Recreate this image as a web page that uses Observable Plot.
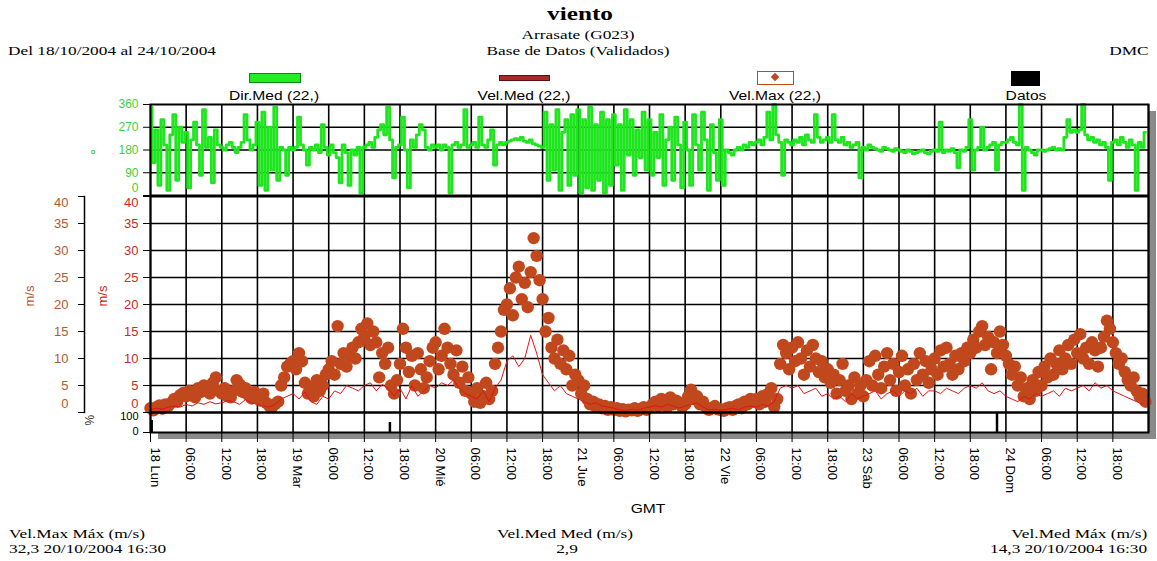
<!DOCTYPE html>
<html><head><meta charset="utf-8">
<script src="https://cdn.jsdelivr.net/npm/d3@7"></script>
<script src="https://cdn.jsdelivr.net/npm/@observablehq/plot@0.6"></script>
<style>
body{margin:0;background:#fff;}
#root{position:relative;width:1157px;height:561px;overflow:hidden;font-family:"Liberation Serif","Times New Roman",serif;color:#000;}
.abs{position:absolute;white-space:nowrap;line-height:1;}
.ser{font-family:"Liberation Serif","Times New Roman",serif;font-size:13px;}
.san{font-family:"Liberation Sans",Arial,sans-serif;font-size:12px;}
.l{transform:scaleX(1.33);transform-origin:0 0;}
.r{transform:scaleX(1.33);transform-origin:100% 0;}
.c{transform:translateX(-50%) scaleX(1.33);}
.cs{transform:translateX(-50%) scaleX(1.3);}
</style></head><body><div id="root">
<div class="abs" style="left:150px;top:104px;width:998px;height:328px;background:#fff;box-shadow:8px 7px 0 #8a8a8a;"></div>
<div class="abs ser c" style="left:580px;top:4px;font-size:19px;font-weight:bold;">viento</div>
<div class="abs ser c" style="left:578px;top:28px;">Arrasate (G023)</div>
<div class="abs ser c" style="left:578px;top:44px;">Base de Datos (Validados)</div>
<div class="abs ser l" style="left:8px;top:44px;">Del 18/10/2004 al 24/10/2004</div>
<div class="abs ser r" style="right:8px;top:44px;">DMC</div>

<div class="abs" style="left:249px;top:73px;width:50px;height:8px;background:#22ee22;border:1px solid #0a8a0a;"></div>
<div class="abs san cs" style="left:274px;top:90px;">Dir.Med (22,)</div>
<div class="abs" style="left:499px;top:75px;width:49px;height:4px;background:#a52a2a;border:1px solid #5a1010;"></div>
<div class="abs san cs" style="left:524px;top:90px;">Vel.Med (22,)</div>
<div class="abs" style="left:757px;top:71px;width:35px;height:12px;background:#fff;border:1px solid #c1481d;"></div>
<div class="abs" style="left:772px;top:74px;width:6px;height:6px;background:#c1481d;transform:rotate(45deg);"></div>
<div class="abs san cs" style="left:775px;top:90px;">Vel.Max (22,)</div>
<div class="abs" style="left:1011px;top:71px;width:29px;height:15px;background:#000;"></div>
<div class="abs san cs" style="left:1026px;top:90px;">Datos</div>

<div id="pTop" class="abs" style="left:0;top:94px;"></div>
<div id="pMid" class="abs" style="left:0;top:188px;"></div>
<div id="pOut" class="abs" style="left:0;top:188px;"></div>
<div id="pBot" class="abs" style="left:0;top:405px;"></div>

<div class="abs san cs" style="left:648px;top:503px;">GMT</div>
<div class="abs ser l" style="left:9px;top:527px;">Vel.Max Máx (m/s)</div>
<div class="abs ser l" style="left:9px;top:542px;">32,3 20/10/2004 16:30</div>
<div class="abs ser c" style="left:565px;top:527px;">Vel.Med Med (m/s)</div>
<div class="abs ser c" style="left:567px;top:542px;">2,9</div>
<div class="abs ser r" style="right:10px;top:527px;">Vel.Med Máx (m/s)</div>
<div class="abs ser r" style="right:10px;top:542px;">14,3 20/10/2004 16:30</div>
</div>
<script>
// ---- data (half-hourly direction & max speed, hourly mean speed) ----
const dirMed = [
350,130,260,40,300,200,20,240,320,60,270,210,
250,30,220,290,200,80,340,190,230,50,260,200,
190,180,200,210,190,170,190,210,320,220,180,200,
290,40,330,20,270,100,350,60,190,180,80,190,
180,190,310,200,180,120,190,180,200,170,280,190,
160,200,170,150,50,200,170,40,180,160,190,10,
190,200,210,190,230,260,280,240,350,220,70,190,
200,310,180,30,220,190,240,280,260,190,180,200,
190,200,180,200,190,10,200,210,190,200,340,190,
200,210,190,310,200,190,220,260,120,200,210,200,
210,215,220,225,220,230,215,210,220,205,200,195,
190,330,60,280,100,340,20,250,300,40,320,80,
340,10,300,30,350,20,280,60,330,10,300,40,
320,120,280,20,340,160,300,80,260,150,330,100,
300,80,250,150,320,40,220,270,60,310,200,30,
290,180,40,320,200,100,330,220,20,280,170,60,
300,40,180,170,160,180,190,180,200,190,210,200,
210,220,200,230,330,220,360,240,210,80,220,210,
200,220,210,230,200,240,220,210,320,230,210,220,
230,210,320,220,210,230,200,210,190,200,210,70,
190,180,200,190,185,180,175,190,185,180,175,185,
180,175,170,180,175,165,170,175,180,170,165,175,
180,175,290,170,180,175,185,170,110,180,175,190,
300,100,180,190,270,180,190,200,210,100,200,210,
210,220,230,210,200,360,20,190,180,170,160,180,
180,175,180,185,190,180,185,180,230,300,250,260,
250,260,360,240,220,230,210,220,200,210,190,60,
210,220,200,230,210,190,220,200,20,210,190,250
];
const velMax = [
0.8,0.4,1.0,1.3,0.7,1.5,1.2,1.8,2.5,2.0,3.2,3.6,
3.0,4.0,3.5,2.8,4.5,3.8,5.0,4.2,3.5,5.5,6.5,4.0,
3.5,4.5,3.0,2.8,4.0,6.0,5.2,3.8,4.5,3.2,2.6,3.8,
3.0,2.2,3.5,1.8,1.2,1.0,1.6,2.0,5.0,6.5,8.5,9.0,
9.5,8.0,11.0,9.5,5.5,3.5,4.5,3.0,6.0,4.0,5.0,7.0,
8.0,9.5,7.0,16.0,9.0,11.0,8.5,10.5,12.0,10.0,13.0,15.5,
14.0,16.5,12.5,15.0,13.0,6.5,11.0,9.0,12.0,5.0,3.5,6.0,
9.0,15.5,12.0,7.5,10.5,5.0,11.0,8.0,4.5,6.5,9.5,12.0,
13.0,8.0,10.5,15.5,12.0,9.0,7.0,11.5,5.5,8.5,4.0,6.5,
3.5,2.0,4.5,1.8,3.0,5.5,2.5,4.0,9.0,12.0,15.0,19.0,
20.0,23.0,18.0,25.0,27.0,21.0,24.0,19.5,26.0,32.3,29.0,24.5,
21.0,15.0,17.5,12.0,10.0,13.5,9.0,11.5,8.0,10.5,5.0,7.0,
6.0,3.5,5.0,2.5,1.5,2.0,1.0,1.5,0.8,1.2,0.5,1.0,
0.5,0.8,0.3,0.6,0.2,0.5,0.4,0.8,0.3,0.6,1.0,0.5,
1.0,1.5,2.0,1.2,2.5,1.8,1.0,2.8,1.5,2.2,1.8,1.0,
1.5,3.0,4.2,2.5,3.0,1.5,2.0,1.0,0.5,0.8,1.2,0.6,
0.5,0.3,0.8,1.0,0.5,1.2,1.5,0.8,2.0,1.5,2.5,2.0,
2.5,1.5,3.0,2.0,3.5,4.5,1.0,2.5,9.0,12.5,11.0,8.0,
12.0,9.5,13.0,10.0,7.0,11.5,8.5,12.5,10.0,7.5,9.5,6.5,
8.0,5.5,7.0,3.5,6.0,9.0,4.0,5.0,2.5,6.5,3.5,5.0,
3.0,6.0,9.5,5.0,10.5,7.0,4.5,8.5,11.0,6.0,9.0,4.0,
7.5,10.5,5.0,8.0,3.5,9.0,6.0,11.0,7.0,9.5,5.5,8.0,
10.0,7.0,11.5,8.5,12.0,9.0,7.0,10.5,8.0,11.0,9.5,12.0,
11.0,13.5,12.0,15.0,16.0,12.5,14.0,8.0,13.0,11.0,15.0,12.5,
10.5,9.0,7.0,8.5,5.0,6.5,3.0,4.5,2.5,6.0,4.0,7.5,
5.0,8.5,6.5,10.0,7.0,9.0,11.5,8.0,10.0,12.5,9.0,13.5,
11.0,14.5,10.0,12.0,9.0,13.0,11.5,8.5,12.0,14.0,17.0,15.5,
13.0,11.0,9.0,10.0,7.5,6.0,5.0,6.5,4.0,3.0,3.5,2.0
];
const velMed = [
0.5,0.8,0.6,1.0,1.2,1.0, 1.5,1.2,1.8,1.5,2.0,1.6, 1.8,2.2,2.0,1.5,2.4,1.8, 1.5,1.2,1.0,1.5,2.5,3.0,
3.5,2.5,3.8,2.0,1.5,3.0, 2.5,4.0,3.5,5.0,4.5,4.0, 5.0,5.5,4.0,5.2,4.5,3.0, 4.5,2.5,5.0,3.0,4.0,5.0,
4.5,5.5,5.0,6.0,4.5,3.5, 3.0,2.5,4.0,2.0,4.5,6.0, 9.5,10.5,8.5,10.0,14.3,11.0, 7.0,5.5,4.0,5.0,3.5,3.0,
2.5,2.0,1.5,1.8,1.2,1.0, 0.8,0.5,0.3,0.6,0.4,0.8, 1.0,1.3,1.0,1.5,1.2,0.8, 1.2,1.5,1.8,1.0,0.5,0.6,
0.4,0.6,0.8,0.5,1.0,1.2, 1.0,1.5,1.2,2.0,4.5,5.0, 4.5,5.0,3.5,4.0,4.5,3.0, 3.5,2.5,3.0,2.0,3.5,2.5,
3.0,3.5,4.0,2.5,3.5,4.0, 3.0,4.0,3.5,4.5,3.0,4.0, 4.0,3.5,4.5,4.0,3.5,4.5, 5.0,4.5,5.5,4.0,3.5,4.0,
3.0,2.5,2.0,3.0,2.5,3.5, 3.0,3.5,4.0,3.0,4.5,4.0, 4.5,5.0,4.0,5.5,4.5,5.0, 4.0,3.5,3.0,2.5,2.0,1.5
];
const datosHours = [0.2, 40.3, 142.5];
const datosValues = [60, 50, 100];
const xTickLabels = ["18 Lun","06:00","12:00","18:00","19 Mar","06:00","12:00","18:00","20 Mié","06:00","12:00","18:00",
 "21 Jue","06:00","12:00","18:00","22 Vie","06:00","12:00","18:00","23 Sáb","06:00","12:00","18:00","24 Dom","06:00","12:00","18:00"];
const dirTicks = [0,90,180,270,360];
const velTicks = [0,5,10,15,20,25,30,35,40];
const datosTicks = [0,100];

// ---- build ----
const GREEN = "#1fe51f", GREENTXT = "#3fcf3f", BROWN = "#c1481d", RED = "#e01515", REDTXT = "#cc2a22", OUTTXT = "#b4582f";
const FONT = "Liberation Sans, Arial, sans-serif";
const tickHours = xTickLabels.map((_, i) => i * 6);
const gridHours = tickHours.concat([168]);
const dirData = dirMed.map((d, i) => ({h: i * 0.5, d}));
const maxData = velMax.map((v, i) => ({h: i * 0.5, v}));
const medData = velMed.map((v, i) => ({h: i, v}));
const datos = datosHours.map((h, i) => ({h, v: datosValues[i]}));
const common = {width: 1157, marginLeft: 150, marginRight: 9, x: {domain: [0, 168], axis: null},
  style: {background: "transparent", fontFamily: FONT, overflow: "visible"}};

const pTop = Plot.plot({...common, height: 101, marginTop: 10, marginBottom: 0,
  y: {domain: [0, 360], axis: null},
  marks: [
    Plot.ruleY(dirTicks.slice(1, 4), {stroke: "#000", strokeWidth: 1.6}),
    Plot.ruleX(gridHours, {stroke: "#000", strokeWidth: 1.6}),
    Plot.lineY(dirData, {x: "h", y: "d", stroke: GREEN, strokeWidth: 2.8, curve: "step"}),
    Plot.frame({stroke: "#000", strokeWidth: 2}),
    Plot.axisY({ticks: dirTicks, tickSize: 7, tickPadding: 5, stroke: "#000", fill: GREENTXT, fontSize: 12, label: null, tickFormat: d => d === 0 ? "" : d}),
    Plot.text([0], {y: d => d, frameAnchor: "left", dx: -12, dy: -7, textAnchor: "end", fill: GREENTXT, fontSize: 12}),
    Plot.text(["°"], {frameAnchor: "left", dx: -60, dy: 5, fill: GREENTXT, fontSize: 13, fontWeight: "bold"})
  ]});
document.getElementById("pTop").append(pTop);

const pMid = Plot.plot({...common, height: 224, marginTop: 8, marginBottom: 0,
  y: {domain: [0, 40], axis: null},
  marks: [
    Plot.ruleY(velTicks.slice(1, 8), {stroke: "#000", strokeWidth: 1.6}),
    Plot.ruleX(gridHours, {stroke: "#000", strokeWidth: 1.6}),
    Plot.dot(maxData, {x: "h", y: "v", r: 6.2, fill: BROWN, stroke: null}),
    Plot.lineY(medData, {x: "h", y: "v", stroke: RED, strokeWidth: 1}),
    Plot.frame({stroke: "#000", strokeWidth: 2}),
    Plot.axisY({ticks: velTicks, tickSize: 7, tickPadding: 5, stroke: "#000", fill: REDTXT, fontSize: 13, label: null, tickFormat: d => (d === 0 || d === 40) ? "" : d}),
    Plot.text([0], {y: d => d, frameAnchor: "left", dx: -12, dy: -9, textAnchor: "end", fill: REDTXT, fontSize: 13}),
    Plot.text([40], {y: d => d, frameAnchor: "left", dx: -12, dy: 6, textAnchor: "end", fill: REDTXT, fontSize: 13}),
    Plot.text(["m/s"], {frameAnchor: "left", dx: -48, dy: 2, rotate: -90, fill: REDTXT, fontSize: 13})
  ]});
document.getElementById("pMid").append(pMid);

const pOut = Plot.plot({width: 100, height: 224, marginLeft: 84, marginRight: 10, marginTop: 8, marginBottom: 0,
  style: {background: "transparent", fontFamily: FONT, overflow: "visible"},
  y: {domain: [0, 40], axis: null},
  marks: [
    Plot.frame({anchor: "left", stroke: "#000", strokeWidth: 1.5}),
    Plot.axisY({ticks: velTicks, tickSize: 6, tickPadding: 10, stroke: "#000", fill: OUTTXT, fontSize: 13, label: null, tickFormat: d => (d === 0 || d === 40) ? "" : d}),
    Plot.text([0], {y: d => d, frameAnchor: "left", dx: -16, dy: -9, textAnchor: "end", fill: OUTTXT, fontSize: 13}),
    Plot.text([40], {y: d => d, frameAnchor: "left", dx: -16, dy: 6, textAnchor: "end", fill: OUTTXT, fontSize: 13}),
    Plot.text(["m/s"], {frameAnchor: "left", dx: -55, dy: 2, rotate: -90, fill: OUTTXT, fontSize: 13})
  ]});
document.getElementById("pOut").append(pOut);

const pBot = Plot.plot({...common, height: 107, marginTop: 7, marginBottom: 80,
  y: {domain: [0, 100], axis: null},
  marks: [
    Plot.ruleX(gridHours, {stroke: "#000", strokeWidth: 1.6}),
    Plot.ruleX(datos, {x: "h", y1: 0, y2: "v", stroke: "#000", strokeWidth: 2.5}),
    Plot.frame({stroke: "#000", strokeWidth: 2}),
    Plot.axisY({ticks: datosTicks, tickSize: 7, tickPadding: 5, stroke: "#000", fill: "#000", fontSize: 12, label: null, tickFormat: () => ""}),
    Plot.text([100], {y: d => d, frameAnchor: "left", dx: -12, dy: 4, textAnchor: "end", fill: "#000", fontSize: 11}),
    Plot.text([0], {y: d => d, frameAnchor: "left", dx: -12, dy: -1, textAnchor: "end", fill: "#000", fontSize: 11}),
    Plot.text(["%"], {frameAnchor: "left", dx: -60, dy: 3, rotate: -90, fill: "#333", fontSize: 12}),
    Plot.axisX({ticks: tickHours, tickSize: 10, tickPadding: 0, stroke: "#000", label: null, tickFormat: () => ""}),
    Plot.text(tickHours, {x: d => d, text: (d, i) => xTickLabels[i], frameAnchor: "bottom", dy: 15, rotate: 90, textAnchor: "start", fill: "#000", fontSize: 13})
  ]});
document.getElementById("pBot").append(pBot);
</script>
</body></html>
